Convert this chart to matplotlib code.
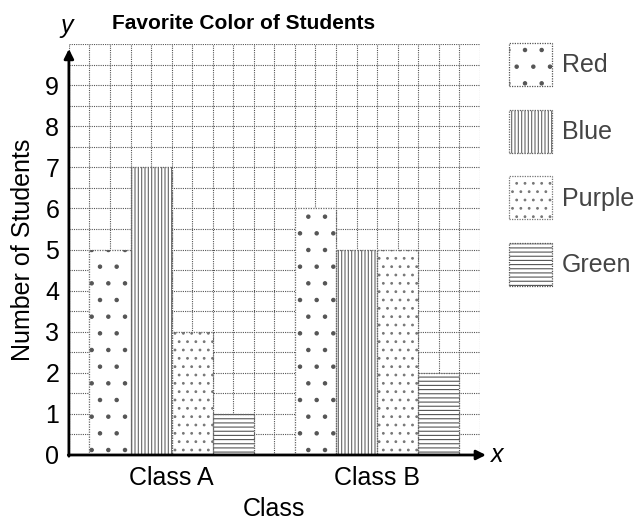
import matplotlib
matplotlib.use("Agg")
import matplotlib.pyplot as plt
import matplotlib.patches as mpatches
import numpy as np

classes = ["Class A", "Class B"]
colors = ["Red", "Blue", "Purple", "Green"]
counts = {
    "Red": [5, 6],
    "Blue": [7, 5],
    "Purple": [3, 5],
    "Green": [1, 2],
}
hatches = {"Red": ".", "Blue": "|||||", "Purple": "..", "Green": "----"}
hatch_colors = {"Red": "#555555", "Blue": "#666666", "Purple": "#777777", "Green": "#555555"}

plt.rcParams["font.family"] = ["Liberation Sans", "DejaVu Sans"]
plt.rcParams["hatch.linewidth"] = 0.8

EDGE = "#666666"
DOTTED = (0, (1, 1))

fig = plt.figure(figsize=(6.38, 5.24), dpi=100)
ax = fig.add_axes([0.108, 0.1317, 0.644, 0.7843])

# grid: 20 columns across, half-unit rows
ax.set_xlim(0, 20)
ax.set_ylim(0, 10)
ax.set_xticks(np.arange(0, 21, 1), minor=True)
ax.set_yticks(np.arange(0, 10.01, 0.5), minor=True)
ax.grid(which="both", color="#555555", linestyle=DOTTED, linewidth=0.8)
ax.set_axisbelow(True)
for s in ax.spines.values():
    s.set_visible(False)

# bars: each 2 grid columns wide, groups start at column 1 and 11
bar_w = 2
group_start = [1, 11]
for gi, start in enumerate(group_start):
    for ci, c in enumerate(colors):
        x0 = start + ci * bar_w
        v = counts[c][gi]
        ax.bar(x0, v, width=bar_w, align="edge", facecolor="white",
               edgecolor=hatch_colors[c], hatch=hatches[c], linewidth=0, zorder=2)
        ax.bar(x0, v, width=bar_w, align="edge", fill=False,
               edgecolor=EDGE, linewidth=0.9, linestyle=DOTTED, zorder=3)

ax.set_xticks([start + 2 * bar_w for start in group_start])
ax.set_xticklabels(classes, fontsize=18)
ax.set_yticks(np.arange(0, 10))
ax.set_yticklabels([str(i) for i in range(10)], fontsize=18)
ax.tick_params(which="both", length=0)
ax.tick_params(axis="x", pad=8)
ax.tick_params(axis="y", pad=7)

# axes with arrows
ax.annotate("", xy=(0, 9.88), xytext=(0, -0.03), annotation_clip=False,
            arrowprops=dict(arrowstyle="-|>", color="black", lw=2, mutation_scale=14, shrinkA=0, shrinkB=0))
ax.annotate("", xy=(20.3, 0), xytext=(-0.03, 0), annotation_clip=False,
            arrowprops=dict(arrowstyle="-|>", color="black", lw=2, mutation_scale=14, shrinkA=0, shrinkB=0))
ax.text(-0.1, 10.15, "y", fontsize=18, style="italic", ha="center", va="bottom")
ax.text(20.55, 0, "x", fontsize=18, style="italic", ha="left", va="center")

ax.set_title("Favorite Color of Students", fontsize=15, fontweight="bold", pad=11, x=0.426)
ax.set_xlabel("Class", fontsize=18, labelpad=5)
ax.set_ylabel("Number of Students", fontsize=18, labelpad=7)

handles = []
for c in colors:
    h = mpatches.Patch(facecolor="white", edgecolor=hatch_colors[c], hatch=hatches[c],
                       linewidth=0.9, linestyle=DOTTED, label=c)
    handles.append(h)
leg = ax.legend(handles=handles, loc="upper left", bbox_to_anchor=(1.071, 1.003), frameon=False,
                fontsize=18, handlelength=1.72, handleheight=2.27, labelspacing=0.95,
                handletextpad=0.4, borderpad=0, borderaxespad=0, labelcolor="#444444")

fig.savefig("out.png", dpi=100)
